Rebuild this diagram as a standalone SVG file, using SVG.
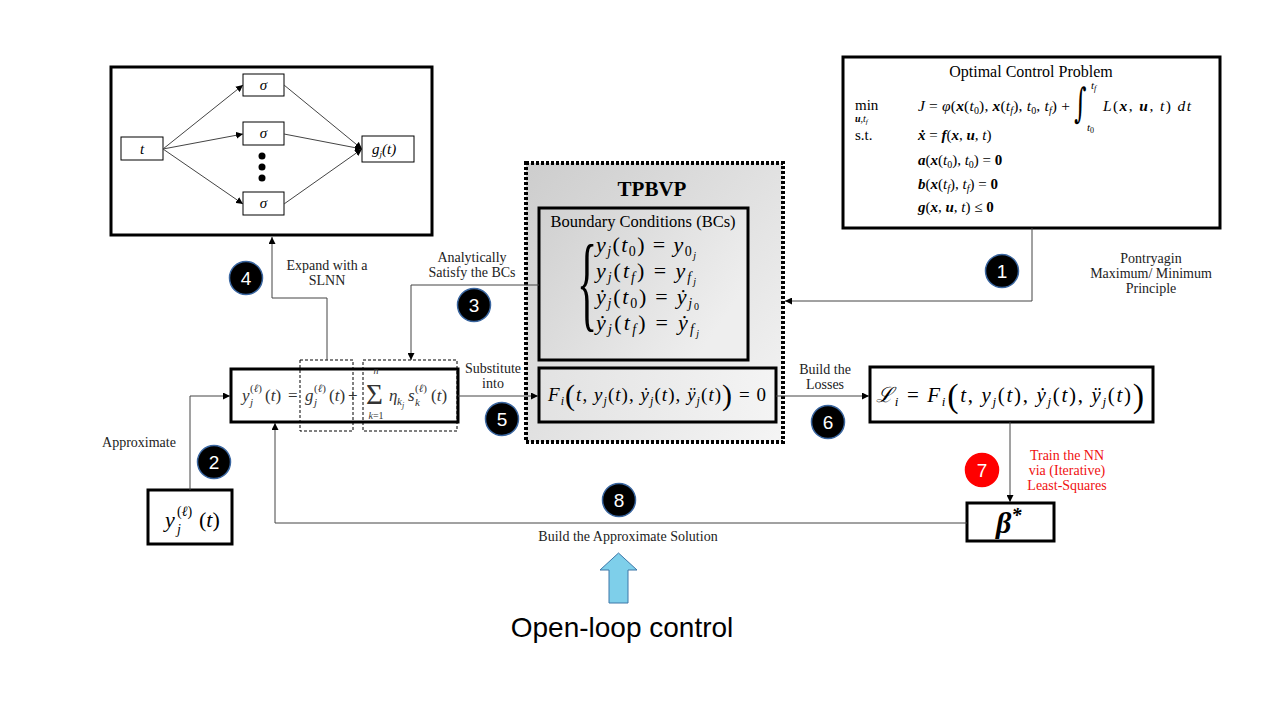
<svg xmlns="http://www.w3.org/2000/svg" width="1280" height="720" viewBox="0 0 1280 720">
<defs>
<marker id="ah" viewBox="0 0 10 10" refX="10" refY="5" markerWidth="7" markerHeight="7" markerUnits="userSpaceOnUse" orient="auto"><path d="M0,0 L10,5 L0,10 z" fill="#000"/></marker>
<linearGradient id="gT" x1="0" y1="0" x2="1" y2="1"><stop offset="0" stop-color="#cdcdcd"/><stop offset="1" stop-color="#f5f5f5"/></linearGradient>
<linearGradient id="gB" x1="0" y1="0" x2="1" y2="0.5"><stop offset="0" stop-color="#d0d0d0"/><stop offset="1" stop-color="#eeeeee"/></linearGradient>
<linearGradient id="gF" x1="0" y1="0" x2="1" y2="0"><stop offset="0" stop-color="#e2e2e2"/><stop offset="1" stop-color="#f4f4f4"/></linearGradient>
</defs>
<style>
.box{fill:#fff;stroke:#000;stroke-width:3}
.thin{fill:#fff;stroke:#000;stroke-width:1}
.dash{fill:none;stroke:#000;stroke-width:1;stroke-dasharray:3 2}
.con{fill:none;stroke:#444;stroke-width:1}
.lbl{font-family:"Liberation Serif",serif;font-size:14px;fill:#222;text-anchor:middle}
.red{fill:#f01010}
.m{font-family:"Liberation Serif","DejaVu Serif",serif;fill:#000}
.i{font-style:italic}
.bi{font-style:italic;font-weight:bold}
.b{font-weight:bold}
.num circle{fill:#000;stroke:#3a66a0;stroke-width:1.5}
.num text{font-family:"Liberation Sans",sans-serif;font-size:19px;fill:#fff;text-anchor:middle}
</style>
<rect width="1280" height="720" fill="#fff"/>

<!-- Neural network (SLNN) -->
<g id="nn">
<rect x="111" y="67" width="321" height="168" class="box"/>
<rect x="121" y="137" width="42" height="23" class="thin"/>
<text x="142" y="154" class="m i" font-size="15" text-anchor="middle">t</text>
<rect x="243" y="74" width="41" height="22" class="thin"/>
<text x="263.5" y="90" class="m i" font-size="15" text-anchor="middle">σ</text>
<rect x="243" y="122" width="41" height="23" class="thin"/>
<text x="263.5" y="138" class="m i" font-size="15" text-anchor="middle">σ</text>
<rect x="243" y="192" width="41" height="23" class="thin"/>
<text x="263.5" y="208" class="m i" font-size="15" text-anchor="middle">σ</text>
<circle cx="262" cy="156" r="3.5" fill="#000"/>
<circle cx="262" cy="167" r="3.5" fill="#000"/>
<circle cx="262" cy="178" r="3.5" fill="#000"/>
<rect x="362" y="136" width="52" height="26" class="thin"/>
<text x="372" y="154" class="m i" font-size="15">g<tspan font-size="9" y="157">j</tspan><tspan y="154">(t)</tspan></text>
</g>

<!-- Optimal Control Problem -->
<g id="ocp">
<rect x="843" y="57" width="377" height="171" class="box"/>
<text x="1031" y="77" class="m" font-size="16" text-anchor="middle">Optimal Control Problem</text>
<text x="855" y="110" class="m" font-size="15">min</text>
<text x="855" y="122" class="m" font-size="10"><tspan class="bi">u</tspan>,<tspan class="i">t</tspan><tspan class="i" font-size="7" y="124">f</tspan></text>
<text class="m" x="918" y="111" font-size="15.5" textLength="152" lengthAdjust="spacing"><tspan class="i">J</tspan><tspan> = </tspan><tspan class="i">φ</tspan><tspan>(</tspan><tspan class="bi">x</tspan><tspan>(</tspan><tspan class="i">t</tspan><tspan font-size="10" y="114">0</tspan><tspan y="111">), </tspan><tspan class="bi">x</tspan><tspan>(</tspan><tspan class="i">t</tspan><tspan class="i" font-size="10" y="114">f</tspan><tspan y="111">), </tspan><tspan class="i">t</tspan><tspan font-size="10" y="114">0</tspan><tspan y="111">, </tspan><tspan class="i">t</tspan><tspan class="i" font-size="10" y="114">f</tspan><tspan y="111">) +</tspan></text>
<text transform="translate(1074,117) scale(0.85,1.45)" font-family="DejaVu Serif" font-size="28">∫</text>
<text x="1091" y="89" class="m i" font-size="11">t<tspan font-size="8" y="91">f</tspan></text>
<text x="1087" y="131" class="m i" font-size="11">t<tspan font-style="normal" font-size="8" y="133">0</tspan></text>
<text class="m" x="1103" y="111" font-size="15.5" textLength="88" lengthAdjust="spacing"><tspan class="i">L</tspan><tspan>(</tspan><tspan class="bi">x</tspan><tspan>, </tspan><tspan class="bi">u</tspan><tspan>, </tspan><tspan class="i">t</tspan><tspan>) </tspan><tspan class="i">dt</tspan></text>
<text x="855" y="140" class="m" font-size="15">s.t.</text>
<text class="m" x="918" y="140" font-size="15"><tspan class="bi">ẋ</tspan> = <tspan class="bi">f</tspan>(<tspan class="bi">x</tspan>, <tspan class="bi">u</tspan>, <tspan class="i">t</tspan>)</text>
<text class="m" x="918" y="165" font-size="15"><tspan class="bi">a</tspan><tspan>(</tspan><tspan class="bi">x</tspan><tspan>(</tspan><tspan class="i">t</tspan><tspan font-size="10" y="168">0</tspan><tspan y="165">), </tspan><tspan class="i">t</tspan><tspan font-size="10" y="168">0</tspan><tspan y="165">) = </tspan><tspan class="b">0</tspan></text>
<text class="m" x="918" y="189" font-size="15"><tspan class="bi">b</tspan><tspan>(</tspan><tspan class="bi">x</tspan><tspan>(</tspan><tspan class="i">t</tspan><tspan class="i" font-size="10" y="192">f</tspan><tspan y="189">), </tspan><tspan class="i">t</tspan><tspan class="i" font-size="10" y="192">f</tspan><tspan y="189">) = </tspan><tspan class="b">0</tspan></text>
<text class="m" x="918" y="212" font-size="15"><tspan class="bi">g</tspan>(<tspan class="bi">x</tspan>, <tspan class="bi">u</tspan>, <tspan class="i">t</tspan>) ≤ <tspan class="b">0</tspan></text>
</g>

<!-- TPBVP -->
<g id="tpbvp">
<rect x="526" y="163" width="257" height="279" fill="url(#gT)" stroke="#000" stroke-width="4" stroke-dasharray="3 2"/>
<text x="652" y="196" class="m b" font-size="21" text-anchor="middle">TPBVP</text>
</g>
<g id="bcs">
<rect x="539" y="208" width="209" height="152" fill="url(#gB)" stroke="#000" stroke-width="3"/>
<text x="643" y="227" class="m" font-size="16.5" text-anchor="middle">Boundary Conditions (BCs)</text>
<text transform="translate(577,318) scale(0.7,1.75)" class="m" font-size="60">{</text>
<text class="m" x="596" y="252" font-size="22" textLength="100" lengthAdjust="spacing"><tspan class="i">y</tspan><tspan class="i" font-size="14" y="256">j</tspan><tspan y="252">(</tspan><tspan class="i">t</tspan><tspan font-size="14" y="256">0</tspan><tspan y="252">) = </tspan><tspan class="i">y</tspan><tspan font-size="14" y="256">0</tspan><tspan class="i" font-size="10" y="259">j</tspan></text>
<text class="m" x="596" y="278" font-size="22" textLength="100" lengthAdjust="spacing"><tspan class="i">y</tspan><tspan class="i" font-size="14" y="282">j</tspan><tspan y="278">(</tspan><tspan class="i">t</tspan><tspan class="i" font-size="14" y="282">f</tspan><tspan y="278">) = </tspan><tspan class="i">y</tspan><tspan class="i" font-size="14" y="282">f</tspan><tspan class="i" font-size="10" y="285">j</tspan></text>
<text class="m" x="596" y="304" font-size="22" textLength="103" lengthAdjust="spacing"><tspan class="i">ẏ</tspan><tspan class="i" font-size="14" y="308">j</tspan><tspan y="304">(</tspan><tspan class="i">t</tspan><tspan font-size="14" y="308">0</tspan><tspan y="304">) = </tspan><tspan class="i">ẏ</tspan><tspan class="i" font-size="14" y="308">j</tspan><tspan font-size="10" y="310">0</tspan></text>
<text class="m" x="596" y="330" font-size="22" textLength="103" lengthAdjust="spacing"><tspan class="i">ẏ</tspan><tspan class="i" font-size="14" y="334">j</tspan><tspan y="330">(</tspan><tspan class="i">t</tspan><tspan class="i" font-size="14" y="334">f</tspan><tspan y="330">) = </tspan><tspan class="i">ẏ</tspan><tspan class="i" font-size="14" y="334">f</tspan><tspan class="i" font-size="10" y="337">j</tspan></text>
</g>
<g id="ode">
<rect x="539" y="368" width="237" height="54" fill="url(#gF)" stroke="#000" stroke-width="3"/>
<text class="m" x="548" y="401" font-size="19" textLength="218" lengthAdjust="spacing"><tspan class="i">F</tspan><tspan class="i" font-size="12" y="405">i</tspan><tspan font-size="30" y="405">(</tspan><tspan class="i" y="401">t</tspan><tspan>, </tspan><tspan class="i">y</tspan><tspan class="i" font-size="12" y="405">j</tspan><tspan y="401">(</tspan><tspan class="i">t</tspan><tspan>), </tspan><tspan class="i">ẏ</tspan><tspan class="i" font-size="12" y="405">j</tspan><tspan y="401">(</tspan><tspan class="i">t</tspan><tspan>), </tspan><tspan class="i">ÿ</tspan><tspan class="i" font-size="12" y="405">j</tspan><tspan y="401">(</tspan><tspan class="i">t</tspan><tspan>)</tspan><tspan font-size="30" y="405">)</tspan><tspan y="401"> = 0</tspan></text>
</g>

<!-- Approximate solution expression -->
<g id="expr">
<rect x="231" y="369" width="227" height="53" class="box"/>
<rect x="300" y="360" width="53" height="71" class="dash"/>
<rect x="363" y="360" width="94" height="71" class="dash"/>
<g class="m" font-size="17">
<text x="242" y="401" class="i" fill="#333">y</text>
<text x="250" y="392" font-size="11" fill="#333">(<tspan class="i">ℓ</tspan>)</text>
<text x="250" y="406" font-size="11" class="i" fill="#333">j</text>
<text x="265" y="401" fill="#333">(<tspan class="i">t</tspan>)</text>
<text x="288" y="401" fill="#333">=</text>
<text x="305" y="401" class="i" fill="#333">g</text>
<text x="314" y="392" font-size="11" fill="#333">(<tspan class="i">ℓ</tspan>)</text>
<text x="314" y="406" font-size="11" class="i" fill="#333">j</text>
<text x="329" y="401" fill="#333">(<tspan class="i">t</tspan>)</text>
<text x="348" y="401" fill="#333">+</text>
<text x="366" y="404" font-size="29" fill="#333">Σ</text>
<text x="376" y="374" font-size="10" class="i" text-anchor="middle" fill="#333">n</text>
<text x="376" y="419" font-size="10" text-anchor="middle" fill="#333"><tspan class="i">k</tspan>=1</text>
<text x="389" y="401" class="i" fill="#333">η</text>
<text x="397" y="405" font-size="11" class="i" fill="#333">k<tspan font-size="8" y="408">j</tspan></text>
<text x="408" y="401" class="i" fill="#333">s</text>
<text x="415" y="392" font-size="11" fill="#333">(<tspan class="i">ℓ</tspan>)</text>
<text x="415" y="406" font-size="11" class="i" fill="#333">k</text>
<text x="431" y="401" fill="#333">(<tspan class="i">t</tspan>)</text>
</g>
</g>

<!-- Losses -->
<g id="losses">
<rect x="870" y="367" width="283" height="55" class="box"/>
<text class="m" x="876" y="402" font-size="21" textLength="268" lengthAdjust="spacing"><tspan class="i">ℒ</tspan><tspan class="i" font-size="13" y="406">i</tspan><tspan y="402"> = </tspan><tspan class="i">F</tspan><tspan class="i" font-size="13" y="406">i</tspan><tspan font-size="34" y="407">(</tspan><tspan class="i" y="402">t</tspan><tspan>, </tspan><tspan class="i">y</tspan><tspan class="i" font-size="13" y="406">j</tspan><tspan y="402">(</tspan><tspan class="i">t</tspan><tspan>), </tspan><tspan class="i">ẏ</tspan><tspan class="i" font-size="13" y="406">j</tspan><tspan y="402">(</tspan><tspan class="i">t</tspan><tspan>), </tspan><tspan class="i">ÿ</tspan><tspan class="i" font-size="13" y="406">j</tspan><tspan y="402">(</tspan><tspan class="i">t</tspan><tspan>)</tspan><tspan font-size="34" y="407">)</tspan></text>
</g>

<!-- initial guess -->
<g id="yguess">
<rect x="148" y="490" width="84" height="54" class="box"/>
<text class="m i" x="165" y="527" font-size="22">y</text>
<text class="m" x="177" y="516" font-size="14">(<tspan class="i">ℓ</tspan>)</text>
<text class="m i" x="177" y="534" font-size="14">j</text>
<text class="m" x="199" y="527" font-size="22">(<tspan class="i">t</tspan>)</text>
</g>

<!-- beta -->
<g id="beta">
<rect x="967" y="503" width="87" height="38" class="box"/>
<text class="m bi" x="996" y="533" font-size="30">β<tspan font-size="20" y="522">*</tspan></text>
</g>

<!-- connectors -->
<g id="connectors">
<g id="nn-edges" class="con" stroke="#555">
<path d="M163,149 L243,85" marker-end="url(#ah)"/>
<path d="M163,149 L243,134" marker-end="url(#ah)"/>
<path d="M163,149 L243,204" marker-end="url(#ah)"/>
<path d="M284,85 L362,149" marker-end="url(#ah)"/>
<path d="M284,134 L362,149" marker-end="url(#ah)"/>
<path d="M284,204 L362,149" marker-end="url(#ah)"/>
</g>
<path class="con" d="M1032,228 V301 H785" marker-end="url(#ah)"/>
<path class="con" d="M539,285 H411 V360" marker-end="url(#ah)"/>
<path class="con" d="M327,360 V298 H272 V237" marker-end="url(#ah)"/>
<path class="con" d="M458,396 H538" marker-end="url(#ah)"/>
<path class="con" d="M776,396 H869" marker-end="url(#ah)"/>
<path class="con" d="M1010,422 V502" marker-end="url(#ah)"/>
<path class="con" d="M967,523 H275 V423" marker-end="url(#ah)"/>
<path class="con" d="M190,490 V396 H230" marker-end="url(#ah)"/>
</g>

<!-- labels -->
<g id="labels">
<text class="lbl" font-size="12"><tspan x="1151" y="263">Pontryagin</tspan><tspan x="1151" y="278">Maximum/ Minimum</tspan><tspan x="1151" y="293">Principle</tspan></text>
<text class="lbl"><tspan x="472" y="262">Analytically</tspan><tspan x="472" y="277">Satisfy the BCs</tspan></text>
<text class="lbl"><tspan x="327" y="270">Expand with a</tspan><tspan x="327" y="285">SLNN</tspan></text>
<text class="lbl" font-size="13"><tspan x="493" y="373">Substitute</tspan><tspan x="493" y="388">into</tspan></text>
<text class="lbl" font-size="13"><tspan x="825" y="374">Build the</tspan><tspan x="825" y="389">Losses</tspan></text>
<text class="lbl" x="139" y="447">Approximate</text>
<text class="lbl" x="628" y="541">Build the Approximate Solution</text>
<text class="lbl red" font-size="13"><tspan x="1067" y="460">Train the NN</tspan><tspan x="1067" y="475">via (Iterative)</tspan><tspan x="1067" y="490">Least-Squares</tspan></text>
</g>

<!-- step numbers -->
<g id="step1" class="num"><circle cx="1002" cy="271" r="16.5"/><text x="1002" y="278">1</text></g>
<g id="step2" class="num"><circle cx="214" cy="462" r="16.5"/><text x="214" y="469">2</text></g>
<g id="step3" class="num"><circle cx="474" cy="305" r="16.5"/><text x="474" y="312">3</text></g>
<g id="step4" class="num"><circle cx="246" cy="278" r="16.5"/><text x="246" y="285">4</text></g>
<g id="step5" class="num"><circle cx="502" cy="419" r="16.5"/><text x="502" y="426">5</text></g>
<g id="step6" class="num"><circle cx="828" cy="422" r="16.5"/><text x="828" y="429">6</text></g>
<g id="step7" class="num"><circle cx="982" cy="470" r="16.5" style="fill:#f00;stroke:#f00"/><text x="982" y="477">7</text></g>
<g id="step8" class="num"><circle cx="619" cy="500" r="16.5"/><text x="619" y="507">8</text></g>

<!-- open loop control -->
<g id="openloop">
<polygon points="609,603 609,570 600,570 618.5,553 637,570 628,570 628,603" fill="#7ecfea" stroke="#3d77a8" stroke-width="1"/>
<text x="622" y="637" font-family="Liberation Sans, sans-serif" font-size="28" text-anchor="middle" fill="#000">Open-loop control</text>
</g>
</svg>
